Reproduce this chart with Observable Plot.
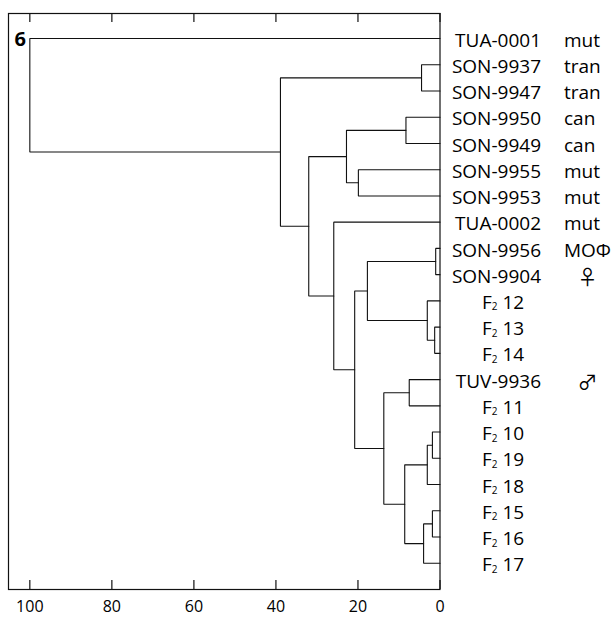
<!DOCTYPE html>
<html>
<head>
<meta charset="utf-8">
<script src="https://cdn.jsdelivr.net/npm/d3@7"></script>
<script src="https://cdn.jsdelivr.net/npm/@observablehq/plot@0.6"></script>
<style>
  html, body { margin: 0; padding: 0; background: #fff; }
  svg { display: block; }
</style>
</head>
<body>
<div id="chart"></div>
<script>
// ---- Data ----
const leafNames = ["TUA-0001","SON-9937","SON-9947","SON-9950","SON-9949","SON-9955","SON-9953","TUA-0002","SON-9956","SON-9904","F₂ 12","F₂ 13","F₂ 14","TUV-9936","F₂ 11","F₂ 10","F₂ 19","F₂ 18","F₂ 15","F₂ 16","F₂ 17"];
const leafTags = ["mut","tran","tran","can","can","mut","mut","mut","MOΦ","♀","","","","♂","","","","","","",""];
// merges (agglomeration steps): child A, child B, linkage distance
const mergeIds    = ["m1","m2","m3","m4","m5","m6","m7","m8","m9","m10","m11","m12","m13","m14","m15","m16","m17","m18","m19","m20"];
const mergeLeft   = ["SON-9937","SON-9950","SON-9955","m2","SON-9956","F₂ 13","F₂ 12","m5","TUV-9936","F₂ 10","m10","F₂ 15","m12","m11","m9","m8","TUA-0002","m4","m1","TUA-0001"];
const mergeRight  = ["SON-9947","SON-9949","SON-9953","m3","SON-9904","F₂ 14","m6","m7","F₂ 11","F₂ 19","F₂ 18","F₂ 16","F₂ 17","m13","m14","m15","m16","m17","m18","m19"];
const mergeHeights = [4.5, 8.3, 19.9, 22.8, 1.05, 1.3, 3.1, 17.7, 7.5, 1.85, 3.1, 1.85, 4.0, 8.6, 13.7, 20.8, 25.9, 32.0, 38.9, 100];
const xTicks = [100, 80, 60, 40, 20, 0];
const panelLabel = "6";

// ---- Layout of the dendrogram from the merge table ----
const pos = new Map();
leafNames.forEach((n, i) => pos.set(n, {x: 0, y: i}));
mergeIds.forEach((id, k) => {
  const a = pos.get(mergeLeft[k]), b = pos.get(mergeRight[k]);
  pos.set(id, {x: mergeHeights[k], y: (a.y + b.y) / 2});
});
const branches = mergeIds.flatMap((id, k) => {
  const a = pos.get(mergeLeft[k]), b = pos.get(mergeRight[k]), h = mergeHeights[k];
  return [{id, x: a.x, y: a.y}, {id, x: h, y: a.y}, {id, x: h, y: b.y}, {id, x: b.x, y: b.y}];
});
const leaves = leafNames.map((name, i) => ({name, tag: leafTags[i], i}));
const isF2 = d => d.name.startsWith("F₂");
const isSymbol = d => d.tag === "♀" || d.tag === "♂";

const W = 612, H = 617;
const mTop = 13, mBottom = 28, mLeft = 8, mRight = 172.5;
const frameH = H - mTop - mBottom;
const tickLen = 9;
const FONT = "'Open Sans', 'DejaVu Sans', sans-serif";

const chart = Plot.plot({
  width: W,
  height: H,
  marginTop: mTop,
  marginBottom: mBottom,
  marginLeft: mLeft,
  marginRight: mRight,
  style: {fontFamily: FONT, fontSize: "16px", color: "#000", background: "#fff"},
  x: {domain: [105.2, 0], label: null},
  y: {domain: [-0.953, 21.0], reverse: true, axis: null},
  marks: [
    Plot.frame({stroke: "#111", strokeWidth: 1.2}),
    // inward tick marks, bottom and top
    Plot.ruleX(xTicks, {x: d => d, insetTop: frameH - tickLen, stroke: "#111", strokeWidth: 1.2}),
    Plot.ruleX(xTicks, {x: d => d, insetBottom: frameH - tickLen, stroke: "#111", strokeWidth: 1.2}),
    Plot.axisX(xTicks, {anchor: "bottom", tickSize: 0, tickPadding: 11.5, label: null, fontSize: 16}),
    // dendrogram branches
    Plot.line(branches, {x: "x", y: "y", z: "id", stroke: "#111", strokeWidth: 1.1, curve: "linear", strokeLinejoin: "miter"}),
    // leaf names
    Plot.text(leaves.filter(d => !isF2(d)), {frameAnchor: "right", y: "i", text: "name", textAnchor: "end", dx: 101, dy: 2, lineAnchor: "middle", fontSize: 19, fill: "#000"}),
    Plot.text(leaves.filter(isF2), {frameAnchor: "right", y: "i", text: "name", textAnchor: "start", dx: 42, dy: 2, lineAnchor: "middle", fontSize: 19, fill: "#000"}),
    // group tags
    Plot.text(leaves.filter(d => d.tag && !isSymbol(d)), {frameAnchor: "right", y: "i", text: "tag", textAnchor: "start", dx: 124, dy: 2, lineAnchor: "middle", fontSize: 19, fill: "#000"}),
    Plot.text(leaves.filter(isSymbol), {frameAnchor: "right", y: "i", text: "tag", textAnchor: "middle", dx: 147.5, dy: 4, lineAnchor: "middle", fontSize: 20, fill: "#000", fontFamily: "'Noto Sans CJK JP', 'DejaVu Sans', sans-serif"}),
    // panel label
    Plot.text([panelLabel], {frameAnchor: "top-left", text: d => d, textAnchor: "start", lineAnchor: "bottom", dx: 6, dy: 32.5, fontSize: 20, fontWeight: "bold", fill: "#000"})
  ]
});

// render F₂ with a real small subscript
d3.select(chart).selectAll("text").each(function() {
  const t = this.textContent;
  if (t && t.startsWith("F₂") && this.childElementCount === 0) {
    const rest = t.slice(2);
    const sel = d3.select(this);
    sel.text(null);
    sel.append("tspan").text("F");
    sel.append("tspan").attr("font-size", 10).attr("dy", 1.5).text("2");
    sel.append("tspan").attr("dy", -1.5).text(rest);
  }
});

document.getElementById("chart").appendChild(chart);
</script>
</body>
</html>
